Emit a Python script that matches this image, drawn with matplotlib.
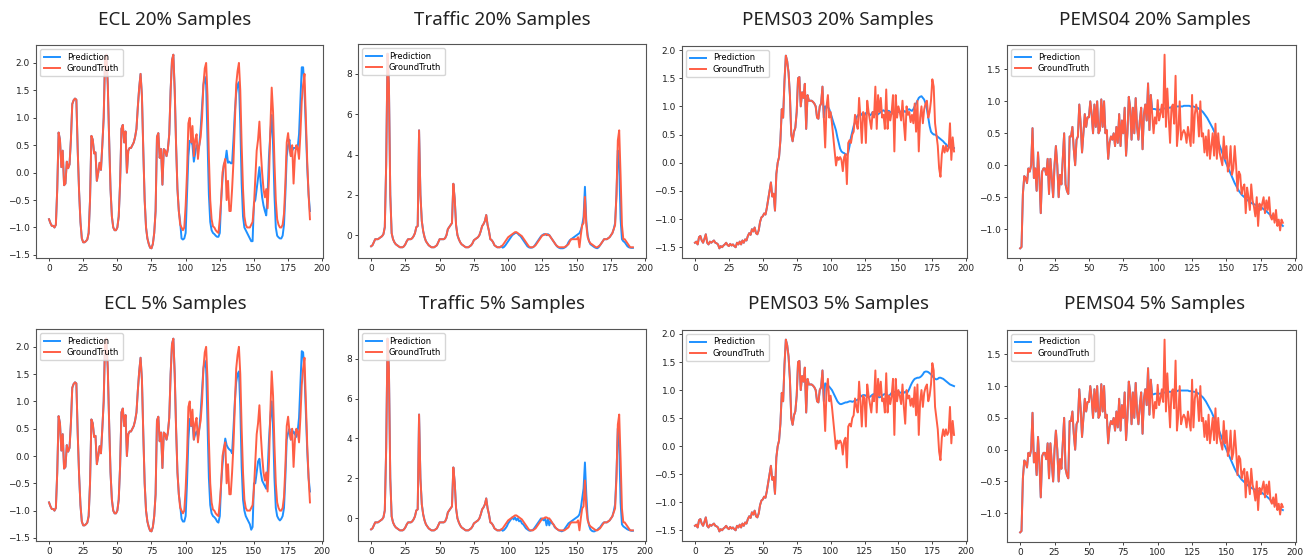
import numpy as np
import matplotlib
matplotlib.use("Agg")
import matplotlib.pyplot as plt

# ground truth, 192 steps (input 96 + horizon 96)
ecl_gt = [
    -0.85, -0.92, -0.97, -0.97, -1.0, -0.95, -0.3, 0.73, 0.6, 0.1, 0.4, -0.23,
    -0.2, 0.2, 0.08, 0.15, 0.6, 1.25, 1.32, 1.35, 1.33, 0.4, -0.35, -0.9,
    -1.2, -1.27, -1.27, -1.25, -1.22, -1.1, -0.5, 0.67, 0.6, 0.35, 0.37, -0.15,
    0.0, 0.18, 0.05, 0.5, 1.0, 2.1, 2.15, 1.6, 0.6, -0.3, -0.8, -1.0,
    -1.05, -1.05, -1.0, -0.8, -0.2, 0.8, 0.87, 0.55, 0.75, 0.0, 0.4, 0.45,
    0.45, 0.5, 0.55, 0.65, 0.8, 1.2, 1.55, 1.8, 1.4, 0.4, -0.5, -1.0,
    -1.2, -1.3, -1.37, -1.38, -1.3, -1.1, -0.7, 0.65, 0.72, 0.27, 0.43, -0.22,
    0.43, 0.4, 0.3, 0.43, 0.7, 1.5, 2.05, 2.15, 1.5, 0.5, -0.3, -0.7,
    -0.95, -1.0, -1.05, -1.0, -0.6, 0.0, 0.9, 1.0, 0.55, 0.85, 0.3, 0.6,
    0.7, 0.25, 0.5, 0.65, 1.0, 1.6, 1.9, 2.0, 1.4, 0.3, -0.5, -0.85,
    -0.98, -1.0, -1.05, -1.08, -1.1, -0.85, -0.5, 0.0, 0.15, 0.25, -0.5, -0.15,
    -0.7, -0.7, -0.3, 0.2, 0.9, 1.6, 1.85, 2.0, 1.5, 0.5, -0.3, -0.8,
    -0.95, -1.0, -1.0, -1.0, -0.95, -0.9, -0.6, -0.1, 0.4, 0.6, 0.93, 0.4,
    0.0, -0.3, -0.45, -0.3, -0.65, -0.1, 0.8, 1.55, 1.1, 0.2, -0.5, -0.85,
    -0.95, -1.0, -1.0, -0.95, -0.75, -0.2, 0.55, 0.72, 0.45, 0.3, 0.5, -0.2,
    0.3, 0.5, 0.45, 0.25, 0.7, 1.3, 1.6, 1.8, 1.0, 0.2, -0.4, -0.85,
]
traffic_gt = [
    -0.55, -0.5, -0.35, -0.2, -0.2, -0.2, -0.15, -0.1, -0.05, 0.05, 0.4, 3.5,
    9.0, 7.5, 2.0, 0.1, -0.2, -0.35, -0.45, -0.5, -0.55, -0.6, -0.6, -0.6,
    -0.55, -0.45, -0.3, -0.2, -0.2, -0.2, -0.15, -0.05, 0.1, 0.4, 0.45, 5.2,
    2.0, 0.7, 0.2, -0.1, -0.3, -0.4, -0.5, -0.55, -0.6, -0.6, -0.6, -0.55,
    -0.5, -0.35, -0.2, -0.2, -0.2, -0.2, -0.15, 0.0, 0.3, 0.4, 0.5, 0.6,
    2.55, 1.8, 0.5, 0.0, -0.2, -0.35, -0.45, -0.5, -0.55, -0.6, -0.6, -0.6,
    -0.55, -0.5, -0.4, -0.25, -0.2, -0.15, -0.1, 0.0, 0.2, 0.45, 0.55, 0.7,
    1.0, 0.5, 0.2, -0.2, -0.25, -0.35, -0.5, -0.55, -0.6, -0.6, -0.6, -0.55,
    -0.5, -0.4, -0.3, -0.2, -0.1, -0.05, 0.0, 0.05, 0.1, 0.15, 0.15, 0.1,
    0.05, 0.0, -0.05, -0.15, -0.25, -0.35, -0.45, -0.55, -0.6, -0.6, -0.6, -0.55,
    -0.5, -0.4, -0.3, -0.2, -0.1, 0.0, 0.0, 0.05, 0.05, 0.0, 0.0, -0.1,
    -0.2, -0.3, -0.4, -0.5, -0.55, -0.6, -0.6, -0.6, -0.6, -0.6, -0.55, -0.5,
    -0.45, -0.3, -0.2, -0.2, -0.2, -0.2, -0.2, -0.1, -0.6, 0.0, 0.5, 0.6,
    1.9, 0.5, -0.1, -0.3, -0.4, -0.45, -0.5, -0.55, -0.6, -0.6, -0.55, -0.5,
    -0.4, -0.3, -0.2, -0.2, -0.2, -0.15, -0.1, 0.0, 0.1, 0.3, 0.5, 2.0,
    4.7, 5.2, 3.0, 0.5, -0.2, -0.2, -0.3, -0.4, -0.5, -0.6, -0.6, -0.6,
]
pems03_gt = [
    -1.42, -1.4, -1.45, -1.32, -1.3, -1.38, -1.42, -1.35, -1.27, -1.42, -1.45, -1.4,
    -1.42, -1.4, -1.38, -1.42, -1.43, -1.45, -1.52, -1.48, -1.5, -1.47, -1.45, -1.42,
    -1.46, -1.48, -1.44, -1.47, -1.45, -1.48, -1.5, -1.42, -1.45, -1.4, -1.45, -1.38,
    -1.42, -1.36, -1.38, -1.3, -1.25, -1.28, -1.18, -1.22, -1.15, -1.25, -1.27, -1.2,
    -1.05, -0.97, -0.95, -0.9, -0.92, -0.8, -0.65, -0.5, -0.35, -0.6, -0.55, -0.85,
    -0.2, 0.0, 0.1, 0.4, 0.95, 0.8, 1.45, 1.9, 1.8, 1.6, 1.2, 0.5,
    0.38, 0.55, 0.62, 0.9, 1.5, 1.52, 1.0, 1.25, 1.15, 1.4, 0.6, 1.2,
    1.1, 1.1, 1.1, 1.08, 1.05, 1.0, 0.8, 0.78, 1.0, 1.05, 1.35, 0.8,
    0.27, 1.0, 1.2, 0.8, 0.9, 0.7, 0.45, 0.2, -0.05, 0.1, 0.05, 0.1,
    0.05, -0.15, 0.1, 0.15, -0.38, 0.35, 0.4, 0.35, 0.5, 0.55, 0.85, 0.7,
    0.6, 1.15, 0.8, 0.35, 0.9, 0.85, 0.35, 1.1, 0.9, 0.75, 0.6, 0.9,
    0.8, 1.35, 0.6, 1.2, 0.9, 1.15, 0.8, 0.85, 0.6, 1.3, 0.6, 0.9,
    0.75, 0.9, 1.2, 0.2, 1.2, 0.8, 1.0, 0.9, 0.75, 1.1, 0.7, 0.4,
    1.0, 0.85, 0.9, 0.72, 0.85, 0.7, 1.05, 0.55, 1.1, 0.2, 0.8, 1.0,
    0.7, 0.95, 1.05, 1.1, 0.8, 0.9, 1.1, 1.48, 1.35, 0.7, 0.5, 0.3,
    -0.1, -0.25, 0.15, 0.3, 0.18, 0.3, 0.2, 0.25, 0.7, 0.05, 0.45, 0.2,
]
pems04_gt = [
    -1.3, -1.28, -0.45, -0.17, -0.2, -0.28, -0.05, -0.1, 0.0, 0.58, -0.2, -0.05,
    -0.4, 0.2, -0.2, -0.75, -0.1, -0.05, -0.05, -0.15, 0.1, -0.45, 0.1, -0.2,
    -0.5, 0.0, 0.3, 0.0, -0.5, -0.15, -0.3, 0.1, 0.5, -0.3, -0.4, -0.45,
    0.45, 0.45, 0.6, 0.25, 0.0, 0.4, 0.45, 0.95, 0.65, 0.2, 0.5, 0.8,
    0.6, 0.75, 0.75, 1.0, 0.8, 0.5, 0.95, 0.6, 1.0, 0.5, 0.55, 1.03,
    0.6, 1.0, 0.5, 0.55, 0.1, 0.35, 0.45, 0.4, 0.5, 0.3, 0.6, 0.35,
    0.8, 0.3, 0.7, 0.5, 0.9, 0.15, 0.5, 1.07, 0.9, 0.4, 0.9, 0.5,
    1.05, 0.6, 0.4, 0.7, 0.9, 0.25, 0.8, 0.95, 0.7, 1.28, 0.55, 1.1,
    0.8, 0.5, 0.75, 0.65, 1.02, 0.7, 0.8, 0.95, 0.75, 1.73, 0.6, 1.2,
    0.75, 0.35, 0.9, 0.95, 0.65, 1.4, 0.3, 0.55, 1.0, 0.4, 0.5, 0.55,
    0.5, 0.35, 0.6, 0.45, 0.3, 1.1, 0.35, 0.8, 0.95, 0.8, 0.45, 1.0,
    0.45, 0.5, 0.2, 0.45, 0.15, 0.55, 0.1, 0.3, 0.5, 0.15, 0.65, 0.1,
    0.5, 0.2, 0.1, 0.0, 0.45, 0.1, 0.3, -0.1, 0.0, 0.3, -0.15, -0.05,
    0.3, 0.0, -0.4, -0.1, -0.15, -0.45, -0.35, -0.3, -0.75, -0.35, -0.5, -0.7,
    -0.3, -0.55, -0.65, -0.8, -0.5, -0.95, -0.6, -0.7, -0.6, -0.5, -0.75, -0.55,
    -0.7, -0.5, -0.8, -0.85, -0.75, -0.9, -0.7, -0.95, -0.85, -1.02, -0.85, -0.9,
]

# predictions over the horizon (steps 96..191)
ecl_pred_20 = [
    -0.9, -1.2, -1.22, -1.2, -1.1, -0.4, 0.3, 0.58, 0.58, 0.5, 0.2, 0.35,
    0.5, 0.45, 0.5, 0.8, 1.2, 1.6, 1.75, 1.6, 0.6, -0.4, -0.9, -1.05,
    -1.1, -1.12, -1.15, -1.17, -1.17, -1.1, -0.5, -0.1, 0.15, 0.2, 0.4, 0.18,
    0.2, 0.17, 0.17, 0.6, 1.1, 1.45, 1.6, 1.65, 0.9, -0.2, -0.8, -1.0,
    -1.05, -1.1, -1.15, -1.2, -1.25, -1.25, -0.55, -0.5, -0.3, -0.1, 0.1, -0.2,
    -0.45, -0.6, -0.7, -0.78, -0.4, 0.3, 0.7, 1.05, 0.5, -0.4, -1.0, -1.15,
    -1.18, -1.2, -1.2, -1.15, -0.95, -0.4, 0.3, 0.5, 0.6, 0.3, 0.4, 0.45,
    0.45, 0.43, 0.45, 0.7, 1.3, 1.92, 1.92, 1.5, 0.8, 0.1, -0.4, -0.7,
]
ecl_pred_5 = [
    -0.9, -1.15, -1.2, -1.2, -1.1, -0.5, 0.3, 0.68, 0.55, 0.6, 0.3, 0.4,
    0.45, 0.35, 0.5, 0.8, 1.2, 1.6, 1.75, 1.6, 0.6, -0.4, -0.9, -1.05,
    -1.1, -1.12, -1.15, -1.2, -1.22, -1.1, -0.5, -0.15, 0.1, 0.32, 0.2, 0.15,
    0.12, 0.1, 0.05, 0.5, 1.0, 1.35, 1.5, 1.55, 0.9, -0.2, -0.8, -1.0,
    -1.1, -1.15, -1.2, -1.25, -1.35, -1.3, -0.5, -0.5, -0.3, -0.1, -0.05, -0.3,
    -0.45, -0.5, -0.55, -0.6, -0.3, 0.3, 0.7, 1.0, 0.5, -0.4, -0.95, -1.1,
    -1.15, -1.18, -1.15, -1.1, -0.95, -0.4, 0.3, 0.42, 0.5, 0.3, 0.4, 0.45,
    0.4, 0.35, 0.45, 0.7, 1.3, 1.92, 1.9, 1.5, 0.8, 0.1, -0.4, -0.65,
]
traffic_pred_20 = [
    -0.62, -0.58, -0.5, -0.4, -0.3, -0.2, -0.1, 0.0, 0.05, 0.1, 0.12, 0.08,
    0.0, -0.05, -0.15, -0.25, -0.35, -0.45, -0.55, -0.6, -0.62, -0.62, -0.6, -0.55,
    -0.45, -0.35, -0.25, -0.15, -0.05, 0.0, 0.05, 0.05, 0.0, 0.05, 0.0, -0.1,
    -0.2, -0.3, -0.4, -0.5, -0.58, -0.62, -0.65, -0.65, -0.65, -0.62, -0.58, -0.5,
    -0.35, -0.25, -0.2, -0.15, -0.1, -0.05, 0.0, 0.05, 0.1, 0.25, 0.5, 0.9,
    2.4, 0.7, 0.0, -0.3, -0.45, -0.5, -0.55, -0.6, -0.63, -0.65, -0.6, -0.5,
    -0.4, -0.3, -0.2, -0.2, -0.2, -0.15, -0.1, 0.0, 0.1, 0.3, 0.6, 2.0,
    4.2, 3.5, 0.8, -0.2, -0.3, -0.35, -0.45, -0.55, -0.6, -0.62, -0.63, -0.63,
]
traffic_pred_5 = [
    -0.62, -0.58, -0.5, -0.4, -0.25, -0.15, -0.05, 0.05, -0.05, 0.05, -0.1, 0.0,
    -0.15, -0.1, -0.25, -0.3, -0.4, -0.5, -0.55, -0.6, -0.62, -0.6, -0.58, -0.5,
    -0.4, -0.3, -0.2, -0.1, 0.0, -0.05, -0.1, 0.0, -0.35, -0.05, -0.35, -0.1,
    -0.25, -0.3, -0.45, -0.5, -0.55, -0.6, -0.62, -0.65, -0.62, -0.55, -0.45, -0.35,
    -0.25, -0.2, -0.15, -0.1, -0.05, 0.0, 0.05, 0.1, 0.2, 0.5, 1.0, 1.5,
    2.8, 1.2, 0.0, -0.35, -0.55, -0.62, -0.65, -0.65, -0.6, -0.58, -0.5, -0.45,
    -0.35, -0.25, -0.2, -0.2, -0.2, -0.15, -0.1, 0.0, 0.1, 0.35, 0.7, 2.2,
    4.5, 3.8, 0.8, -0.3, -0.4, -0.45, -0.5, -0.55, -0.58, -0.6, -0.62, -0.62,
]
pems03_pred_20 = [
    1.0, 0.98, 0.99, 0.95, 0.88, 0.8, 0.72, 0.65, 0.57, 0.45, 0.35, 0.25,
    0.2, 0.18, 0.17, 0.15, 0.14, 0.18, 0.3, 0.45, 0.55, 0.65, 0.72, 0.8,
    0.84, 0.86, 0.88, 0.85, 0.83, 0.84, 0.88, 0.9, 0.87, 0.84, 0.86, 0.9,
    0.88, 0.87, 0.85, 0.86, 0.88, 0.9, 0.92, 0.93, 0.91, 0.9, 0.92, 0.92,
    0.9, 0.88, 0.87, 0.88, 0.9, 0.91, 0.9, 0.9, 0.91, 0.93, 0.92, 0.9,
    0.92, 0.94, 0.95, 0.93, 0.92, 0.95, 1.0, 1.05, 1.1, 1.15, 1.17, 1.18,
    1.15, 1.12, 1.05, 0.95, 0.8, 0.65, 0.55, 0.52, 0.5, 0.5, 0.48, 0.46,
    0.44, 0.42, 0.4, 0.38, 0.35, 0.33, 0.3, 0.28, 0.27, 0.27, 0.26, 0.26,
]
pems03_pred_5 = [
    1.12, 1.1, 1.08, 1.06, 1.03, 1.0, 0.95, 0.9, 0.85, 0.8, 0.77, 0.75,
    0.75, 0.76, 0.77, 0.78, 0.78, 0.79, 0.8, 0.8, 0.79, 0.8, 0.81, 0.82,
    0.83, 0.85, 0.88, 0.9, 0.91, 0.91, 0.9, 0.88, 0.87, 0.88, 0.9, 0.92,
    0.93, 0.92, 0.9, 0.88, 0.87, 0.88, 0.9, 0.92, 0.93, 0.92, 0.9, 0.9,
    0.92, 0.95, 0.97, 0.97, 0.96, 0.97, 0.97, 0.96, 0.95, 0.94, 0.95, 0.97,
    0.95, 0.97, 1.02, 1.08, 1.13, 1.17, 1.2, 1.21, 1.22, 1.22, 1.23, 1.25,
    1.28, 1.32, 1.33, 1.33, 1.32, 1.3, 1.28, 1.25, 1.22, 1.2, 1.19, 1.2,
    1.22, 1.22, 1.21, 1.2, 1.18, 1.16, 1.14, 1.12, 1.1, 1.09, 1.08, 1.07,
]
pems04_pred_20 = [
    0.88, 0.88, 0.88, 0.87, 0.87, 0.87, 0.87, 0.88, 0.88, 0.89, 0.89, 0.9,
    0.9, 0.9, 0.91, 0.91, 0.91, 0.92, 0.92, 0.92, 0.92, 0.92, 0.92, 0.93,
    0.93, 0.93, 0.93, 0.93, 0.92, 0.92, 0.92, 0.91, 0.9, 0.9, 0.88, 0.87,
    0.85, 0.83, 0.8, 0.77, 0.74, 0.7, 0.66, 0.62, 0.58, 0.53, 0.48, 0.43,
    0.37, 0.31, 0.25, 0.19, 0.13, 0.07, 0.02, -0.03, -0.08, -0.13, -0.18, -0.23,
    -0.28, -0.32, -0.36, -0.4, -0.43, -0.46, -0.48, -0.5, -0.52, -0.54, -0.56, -0.57,
    -0.59, -0.6, -0.61, -0.62, -0.63, -0.64, -0.65, -0.66, -0.67, -0.69, -0.7, -0.72,
    -0.74, -0.76, -0.78, -0.8, -0.82, -0.84, -0.86, -0.88, -0.9, -0.92, -0.93, -0.95,
]
pems04_pred_5 = [
    0.87, 0.87, 0.88, 0.88, 0.87, 0.88, 0.88, 0.89, 0.89, 0.9, 0.9, 0.9,
    0.91, 0.91, 0.91, 0.92, 0.92, 0.92, 0.92, 0.93, 0.93, 0.93, 0.93, 0.93,
    0.93, 0.93, 0.93, 0.92, 0.92, 0.92, 0.91, 0.91, 0.9, 0.89, 0.88, 0.86,
    0.84, 0.82, 0.79, 0.76, 0.72, 0.68, 0.64, 0.6, 0.55, 0.5, 0.45, 0.4,
    0.34, 0.28, 0.22, 0.16, 0.1, 0.05, 0.0, -0.05, -0.1, -0.15, -0.2, -0.25,
    -0.3, -0.34, -0.38, -0.41, -0.44, -0.47, -0.49, -0.51, -0.53, -0.55, -0.57, -0.58,
    -0.6, -0.61, -0.62, -0.63, -0.64, -0.65, -0.66, -0.67, -0.68, -0.7, -0.71, -0.73,
    -0.75, -0.77, -0.79, -0.81, -0.83, -0.85, -0.87, -0.89, -0.91, -0.93, -0.94, -0.95,
]

datasets = ["ECL", "Traffic", "PEMS03", "PEMS04"]
ratios = ["20%", "5%"]
gts = [ecl_gt, traffic_gt, pems03_gt, pems04_gt]
preds = {
    "20%": [ecl_pred_20, traffic_pred_20, pems03_pred_20, pems04_pred_20],
    "5%": [ecl_pred_5, traffic_pred_5, pems03_pred_5, pems04_pred_5],
}
input_len = 96

W, H = 1311, 556
# axes boxes in pixels: (left, top, right, bottom)
boxes = [
    [(36, 45, 323, 258), (358, 44, 646, 258), (682, 46, 967, 258), (1007, 45, 1296, 258)],
    [(36, 329, 323, 541), (358, 329, 646, 541), (682, 330, 967, 541), (1007, 330, 1296, 542)],
]
title_x = [175, 502, 838, 1155]
title_y = [20, 304]

fig = plt.figure(figsize=(W / 100, H / 100), dpi=100)

for r, ratio in enumerate(ratios):
    for c, name in enumerate(datasets):
        l, t, rr, b = boxes[r][c]
        ax = fig.add_axes([l / W, 1 - b / H, (rr - l) / W, (b - t) / H])
        gt = np.array(gts[c])
        pred = np.concatenate([gt[:input_len], np.array(preds[ratio][c])])
        ax.plot(pred, color="#1E90FF", lw=1.4, label="Prediction")
        ax.plot(gt, color="#FF5E45", lw=1.4, label="GroundTruth")
        ax.set_xticks([0, 25, 50, 75, 100, 125, 150, 175, 200])
        ax.tick_params(labelsize=6.5, length=2.5, width=0.6, pad=1.8,
                       colors="#222222")
        for s in ax.spines.values():
            s.set_color("#555555")
            s.set_linewidth(0.8)
        ax.legend(loc="upper left", fontsize=6, handlelength=2.0,
                  borderpad=0.4, labelspacing=0.3, framealpha=0.8)
        fig.text(title_x[c] / W, 1 - title_y[r] / H, f"{name} {ratio} Samples",
                 ha="center", va="center", fontsize=13.5, family="Noto Sans",
                 color="#222222")

fig.savefig("out.png", dpi=100)
